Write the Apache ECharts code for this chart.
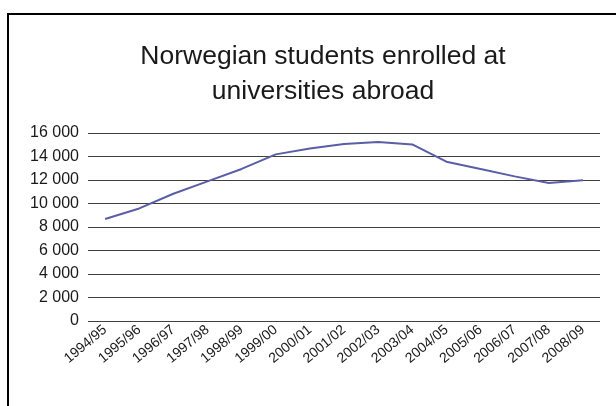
<!DOCTYPE html>
<html>
<head>
<meta charset="utf-8">
<script src="https://cdn.jsdelivr.net/npm/echarts@6/dist/echarts.min.js"></script>
<style>
html,body{margin:0;padding:0;background:#fff;}
#chart{width:616px;height:406px;}
</style>
</head>
<body>
<div id="chart"></div>
<script>
const titleText = "Norwegian students enrolled at\nuniversities abroad";
const categories = ["1994/95","1995/96","1996/97","1997/98","1998/99","1999/00","2000/01","2001/02","2002/03","2003/04","2004/05","2005/06","2006/07","2007/08","2008/09"];
const students = [8680, 9580, 10830, 11880, 12940, 14180, 14680, 15060, 15230, 15030, 13560, 12940, 12310, 11740, 11970];

const chart = echarts.init(document.getElementById('chart'), null, {renderer: 'canvas'});
chart.setOption({
  backgroundColor: '#ffffff',
  animation: false,
  graphic: [{
    type: 'rect',
    shape: {x: 8, y: 14, width: 800, height: 600},
    style: {fill: 'none', stroke: '#000', lineWidth: 2},
    silent: true
  }],
  title: {
    text: titleText,
    left: 318,
    textAlign: 'center',
    top: 34,
    textStyle: {
      fontFamily: 'Liberation Sans, Arial, sans-serif',
      fontSize: 26.5,
      fontWeight: 'normal',
      color: '#1a1a1a',
      lineHeight: 35
    }
  },
  grid: {left: 88, right: 16, top: 133, bottom: 85, containLabel: false},
  xAxis: {
    type: 'category',
    data: categories,
    boundaryGap: true,
    axisLine: {show: false},
    axisTick: {show: false},
    axisLabel: {
      interval: 0,
      rotate: 40,
      margin: 7,
      fontFamily: 'Liberation Sans, Arial, sans-serif',
      fontSize: 14,
      color: '#1a1a1a'
    }
  },
  yAxis: {
    type: 'value',
    min: 0,
    max: 16000,
    interval: 2000,
    axisLine: {show: false},
    axisTick: {show: false},
    splitLine: {lineStyle: {color: '#404040', width: 1}},
    axisLabel: {
      margin: 9,
      fontFamily: 'Liberation Sans, Arial, sans-serif',
      fontSize: 16,
      color: '#1a1a1a',
      formatter: function (v) {
        return String(v).replace(/\B(?=(\d{3})+(?!\d))/g, ' ');
      }
    }
  },
  series: [{
    type: 'line',
    data: students,
    symbol: 'none',
    lineStyle: {color: '#5a5ea6', width: 2},
    itemStyle: {color: '#5a5ea6'}
  }]
});
</script>
</body>
</html>
